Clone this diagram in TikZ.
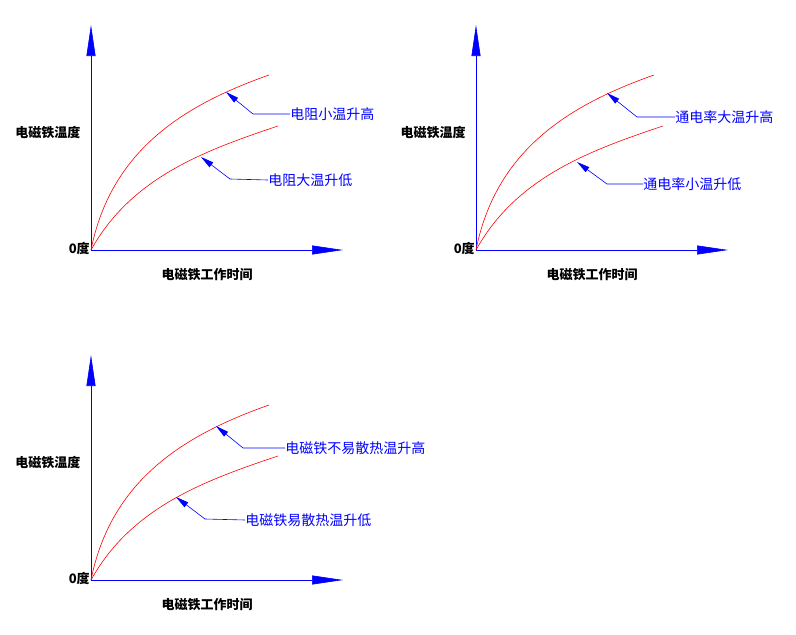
\documentclass[tikz,border=0pt]{standalone}
\usepackage{fontspec}
\newfontfamily\cjk{Noto Sans CJK SC}
\usetikzlibrary{arrows.meta, positioning, calc}

\begin{document}
\begin{tikzpicture}[x=1pt, y=-1pt, line width=0.6pt]
  \tikzset{axis/.style={draw=blue, -{Triangle[length=31pt, width=9pt]}},
    curve/.style={draw=red},
    leader/.style={draw=blue, {Triangle[length=13pt, width=6pt]}-},
    axlabel/.style={font=\cjk\bfseries\fontsize{13}{13}\selectfont, inner sep=0pt},
    curvelabel/.style={font=\cjk\fontsize{14}{14}\selectfont, text=blue, inner sep=0pt, anchor=west}};
  \useasboundingbox (0,0) rectangle (796,635);
  % axes of the three panels
  \foreach \ox/\oy/\n in {91/250/a, 476/250/b, 91/580/c} {
    \coordinate (o\n) at (\ox,\oy);
    \draw[axis] (o\n) -- ++(0,-225);
    \draw[axis] (o\n) -- ++(252,0);
    \node[axlabel, left=1pt of o\n, yshift=2pt] {0度};
    \node[axlabel] at ($(o\n)+(-43,-117)$) {电磁铁温度};
    \node[axlabel] at ($(o\n)+(116,25)$) {电磁铁工作时间};
    \draw[curve] (o\n) .. controls +(20,-100) and +(-85,30) .. ++(178,-175);
    \draw[curve] (o\n) .. controls +(40,-72) and +(-75,25) .. ++(187,-124);
  }
  % panel a
  \coordinate (ta) at (226,92);
  \coordinate (ba) at (201,157);
  \node[curvelabel] (hia) at (290,114) {电阻小温升高};
  \node[curvelabel] (loa) at (268,180) {电阻大温升低};
  \draw[leader] (ta) -- (253,114) -- (hia.west);
  \draw[leader] (ba) -- (230,179) -- (loa.west);
  % panel b
  \coordinate (tb) at (607,93);
  \coordinate (bb) at (577,162);
  \node[curvelabel] (hib) at (675,117) {通电率大温升高};
  \node[curvelabel] (lob) at (643,184) {通电率小温升低};
  \draw[leader] (tb) -- (637,117) -- (hib.west);
  \draw[leader] (bb) -- (607,184) -- (lob.west);
  % panel c
  \coordinate (tc) at (216,426);
  \coordinate (bc) at (176,497);
  \node[curvelabel] (hic) at (285,448) {电磁铁不易散热温升高};
  \node[curvelabel] (loc) at (245,520) {电磁铁易散热温升低};
  \draw[leader] (tc) -- (243,448) -- (hic.west);
  \draw[leader] (bc) -- (205,519) -- (loc.west);
\end{tikzpicture}
\end{document}
